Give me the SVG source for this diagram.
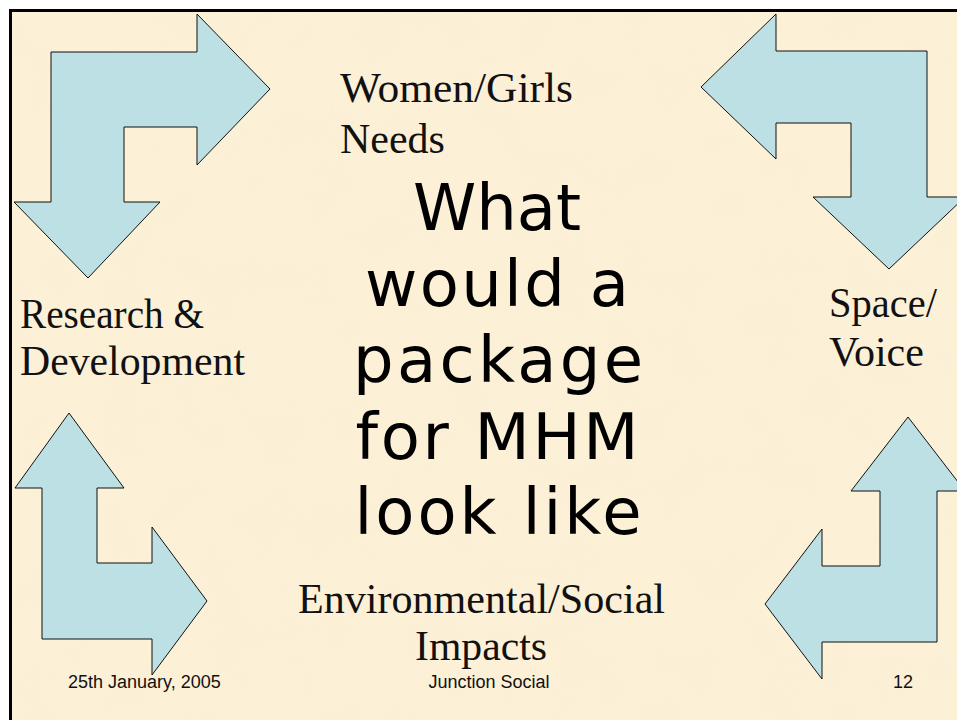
<svg xmlns="http://www.w3.org/2000/svg" width="957" height="720" viewBox="0 0 957 720">
  <style>
    .arrow { fill: #BCE0E3; stroke: #111; stroke-width: 1; stroke-linejoin: miter; }
    .serif { font-family: "Liberation Serif", "DejaVu Serif", serif; font-size: 42px; fill: #111; }
    .title { font-family: "DejaVu Sans", Verdana, sans-serif; font-size: 64px; fill: #000; text-anchor: middle; }
    .foot { font-family: "Liberation Sans", Arial, sans-serif; font-size: 18px; fill: #111; }
  </style>
  <defs>
    <filter id="parch" x="0" y="0" width="100%" height="100%">
      <feTurbulence type="fractalNoise" baseFrequency="0.02" numOctaves="4" seed="7" result="n"/>
      <feColorMatrix type="matrix" in="n" values="0 0 0 0 0.93  0 0 0 0 0.84  0 0 0 0 0.66  0 0 0 -1.2 0.75" result="c"/>
      <feComposite in="c" in2="SourceGraphic" operator="in"/>
    </filter>
  </defs>
  <rect width="957" height="720" fill="#FFFFFF"/>
  <g id="background">
    <rect x="10" y="10" width="960" height="720" fill="#FCF0D7"/>
    <rect x="10" y="10" width="960" height="720" fill="#FCF0D7" filter="url(#parch)" opacity="0.35"/>
    <rect x="10.5" y="10.5" width="960" height="720" fill="none" stroke="#000" stroke-width="3"/>
  </g>
  <g id="arrows">
    <g id="arrow-top-left">
      <polygon class="arrow" points="51,52 197,52 197,14 270,89 197,165 197,127 124,127 124,202 160,202 88,278 14,202 51,202"/>
    </g>
    <g id="arrow-top-right">
      <polygon class="arrow" points="701,87 776,14 776,51 927,51 927,197 965,197 889,269 813,197 851,197 851,123 776,123 776,159"/>
    </g>
    <g id="arrow-bottom-left">
      <polygon class="arrow" points="69,413 124,488 97,488 97,563 152,563 152,527 207,601 152,675 152,639 42,639 42,488 15,488"/>
    </g>
    <g id="arrow-bottom-right">
      <polygon class="arrow" points="908,417 965,491 937,491 937,642 822,642 822,679 765,604 822,529 822,566 880,566 880,491 851,491"/>
    </g>
  </g>
  <g id="label-women-girls">
    <text class="serif" x="340" y="102" textLength="233" lengthAdjust="spacingAndGlyphs">Women/Girls</text>
    <text class="serif" x="340" y="153">Needs</text>
  </g>
  <g id="label-research">
    <text class="serif" x="20" y="328" textLength="184" lengthAdjust="spacingAndGlyphs">Research &amp;</text>
    <text class="serif" x="20" y="375" textLength="225" lengthAdjust="spacingAndGlyphs">Development</text>
  </g>
  <g id="label-space-voice">
    <text class="serif" x="829" y="317" textLength="108" lengthAdjust="spacingAndGlyphs">Space/</text>
    <text class="serif" x="829" y="366">Voice</text>
  </g>
  <g id="label-environmental">
    <text class="serif" x="298" y="613" textLength="367" lengthAdjust="spacingAndGlyphs">Environmental/Social</text>
    <text class="serif" x="415" y="660" textLength="132" lengthAdjust="spacingAndGlyphs">Impacts</text>
  </g>
  <g id="title">
    <text class="title" x="497" y="230">What</text>
    <text class="title" x="497" y="306" textLength="264" lengthAdjust="spacing">would a</text>
    <text class="title" x="498" y="382" textLength="290" lengthAdjust="spacing">package</text>
    <text class="title" x="497" y="459" textLength="283" lengthAdjust="spacing">for MHM</text>
    <text class="title" x="498" y="534" textLength="287" lengthAdjust="spacing">look like</text>
  </g>
  <g id="footer">
    <text class="foot" x="68" y="688">25th January, 2005</text>
    <text class="foot" x="489" y="688" text-anchor="middle">Junction Social</text>
    <text class="foot" x="893" y="688">12</text>
  </g>
</svg>
